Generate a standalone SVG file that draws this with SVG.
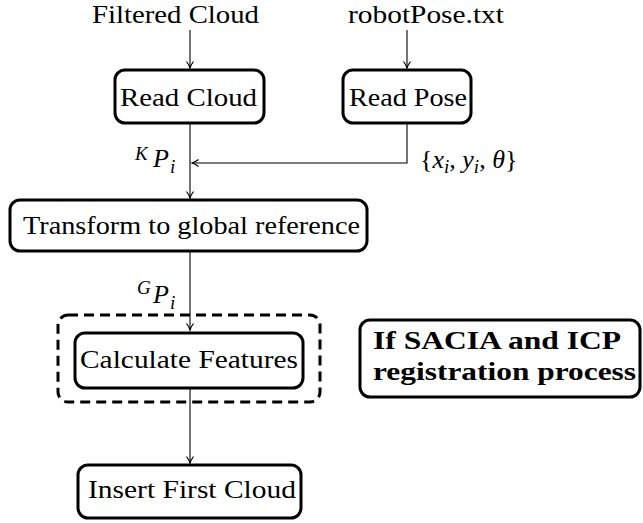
<svg xmlns="http://www.w3.org/2000/svg" width="643" height="523" viewBox="0 0 643 523">
<style>
text{font-family:'Liberation Serif','Times New Roman',serif;font-size:26px;fill:#000}
.it{font-style:italic}
.sm{font-size:19px}
.bd{font-weight:bold}
.box{fill:#fff;stroke:#000;stroke-width:3}
.dash{fill:none;stroke:#000;stroke-width:3;stroke-dasharray:10 6}
.c{fill:none;stroke:#000;stroke-width:1.1}
</style>
<defs>
<marker id="ah" markerWidth="10" markerHeight="10" refX="8" refY="5" orient="auto" markerUnits="userSpaceOnUse">
<path d="M1.5,1.5 Q5,4.2 8,5 Q5,5.8 1.5,8.5" fill="none" stroke="#000" stroke-width="1.2"/>
</marker>
</defs>
<g id="connectors">
<path class="c" d="M190,30 V68" marker-end="url(#ah)"/>
<path class="c" d="M407,30 V68" marker-end="url(#ah)"/>
<path class="c" d="M190,123 V198" marker-end="url(#ah)"/>
<path class="c" d="M407,123 V163 H192" marker-end="url(#ah)"/>
<path class="c" d="M190,251 V330" marker-end="url(#ah)"/>
<path class="c" d="M190,388 V463" marker-end="url(#ah)"/>
</g>
<g id="filtered-cloud"><text x="92" y="23" textLength="167" lengthAdjust="spacingAndGlyphs">Filtered Cloud</text></g>
<g id="robot-pose"><text x="348" y="23" textLength="156" lengthAdjust="spacingAndGlyphs">robotPose.txt</text></g>
<g id="read-cloud"><rect class="box" x="115" y="70" width="149" height="53" rx="10"/><text x="120" y="106" textLength="137" lengthAdjust="spacingAndGlyphs">Read Cloud</text></g>
<g id="read-pose"><rect class="box" x="343" y="70" width="128" height="53" rx="10"/><text x="349" y="106" textLength="118" lengthAdjust="spacingAndGlyphs">Read Pose</text></g>
<g id="kpi"><text class="it"><tspan class="sm" x="135" y="160">K</tspan><tspan x="153" y="167">P</tspan><tspan class="sm" x="170" y="173">i</tspan></text></g>
<g id="pose-vars"><text x="420" y="168">{<tspan class="it">x</tspan><tspan class="it sm" dy="5">i</tspan><tspan dy="-5">, </tspan><tspan class="it">y</tspan><tspan class="it sm" dy="5">i</tspan><tspan dy="-5">, </tspan><tspan class="it">θ</tspan>}</text></g>
<g id="transform"><rect class="box" x="10" y="200" width="357" height="51" rx="10"/><text x="23" y="234" textLength="337" lengthAdjust="spacingAndGlyphs">Transform to global reference</text></g>
<g id="gpi"><text class="it"><tspan class="sm" x="137" y="294">G</tspan><tspan x="153" y="303">P</tspan><tspan class="sm" x="170" y="309">i</tspan></text></g>
<g id="sacia-group"><rect class="dash" x="58" y="315" width="262" height="87" rx="10"/></g>
<g id="calc-features"><rect class="box" x="75" y="333" width="228" height="55" rx="10"/><text x="80" y="368" textLength="218" lengthAdjust="spacingAndGlyphs">Calculate Features</text></g>
<g id="insert-first"><rect class="box" x="78" y="465" width="223" height="53" rx="10"/><text x="88" y="498" textLength="208" lengthAdjust="spacingAndGlyphs">Insert First Cloud</text></g>
<g id="note"><rect class="box" x="360" y="320" width="280" height="77" rx="10"/><text class="bd" x="373" y="349" textLength="248" lengthAdjust="spacingAndGlyphs">If SACIA and ICP</text><text class="bd" x="373" y="380" textLength="263" lengthAdjust="spacingAndGlyphs">registration process</text></g>
</svg>
